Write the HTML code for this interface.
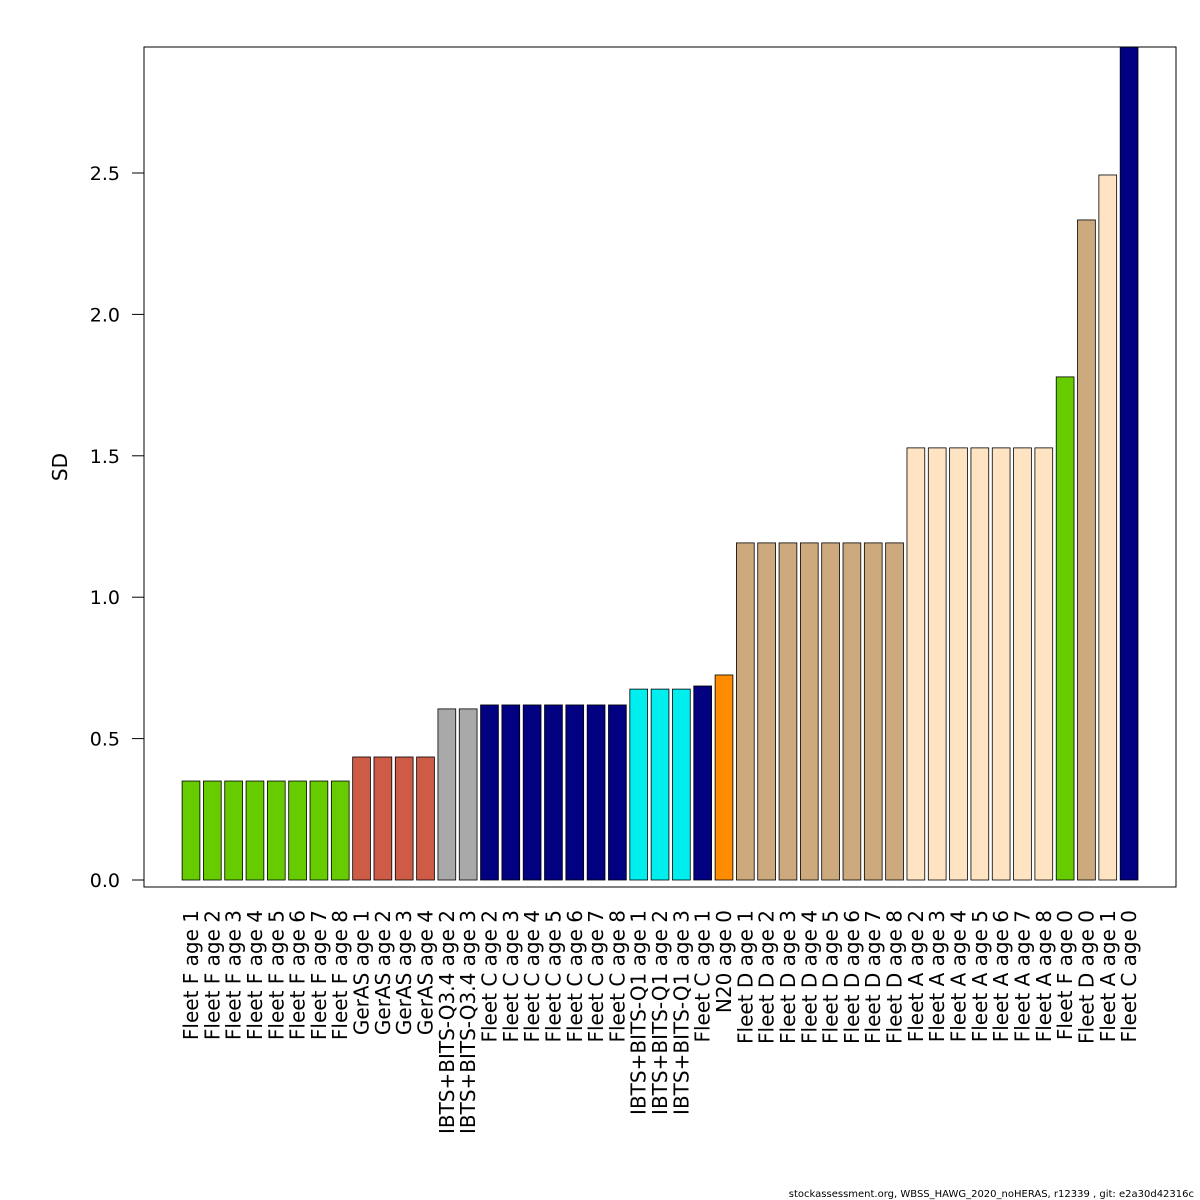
<!DOCTYPE html>
<html><head><meta charset="utf-8"><style>
html,body{margin:0;padding:0;background:#fff;overflow:hidden;width:1200px;height:1200px}
svg{display:block}
svg text{font-family:"DejaVu Sans","Liberation Sans",sans-serif}
</style></head><body>
<svg id="chart" width="1200" height="1200" xmlns="http://www.w3.org/2000/svg">
<defs><clipPath id="plotclip"><rect x="144" y="47" width="1032" height="840"/></clipPath></defs>
<rect x="0" y="0" width="1200" height="1200" fill="#fff"/>
<g id="bars" clip-path="url(#plotclip)"></g>
<g id="labels"></g>
<g id="yaxis"></g>
<rect x="144" y="47" width="1032" height="840" fill="none" stroke="#000" stroke-width="1"/>
<text x="67" y="467" font-size="20" text-anchor="middle" transform="rotate(-90 67 467)">SD</text>
<text x="1194" y="1197" font-size="10" text-anchor="end">stockassessment.org, WBSS_HAWG_2020_noHERAS, r12339 , git: e2a30d42316c</text>
</svg>
<script>
const categories=["Fleet F age 1","Fleet F age 2","Fleet F age 3","Fleet F age 4","Fleet F age 5","Fleet F age 6","Fleet F age 7","Fleet F age 8","GerAS age 1","GerAS age 2","GerAS age 3","GerAS age 4","IBTS+BITS-Q3.4 age 2","IBTS+BITS-Q3.4 age 3","Fleet C age 2","Fleet C age 3","Fleet C age 4","Fleet C age 5","Fleet C age 6","Fleet C age 7","Fleet C age 8","IBTS+BITS-Q1 age 1","IBTS+BITS-Q1 age 2","IBTS+BITS-Q1 age 3","Fleet C age 1","N20 age 0","Fleet D age 1","Fleet D age 2","Fleet D age 3","Fleet D age 4","Fleet D age 5","Fleet D age 6","Fleet D age 7","Fleet D age 8","Fleet A age 2","Fleet A age 3","Fleet A age 4","Fleet A age 5","Fleet A age 6","Fleet A age 7","Fleet A age 8","Fleet F age 0","Fleet D age 0","Fleet A age 1","Fleet C age 0"];
const values=[0.35,0.35,0.35,0.35,0.35,0.35,0.35,0.35,0.435,0.435,0.435,0.435,0.605,0.605,0.619,0.619,0.619,0.619,0.619,0.619,0.619,0.675,0.675,0.675,0.686,0.725,1.192,1.192,1.192,1.192,1.192,1.192,1.192,1.192,1.528,1.528,1.528,1.528,1.528,1.528,1.528,1.779,2.334,2.493,3.0];
const fleets=["F","F","F","F","F","F","F","F","G","G","G","G","Q3","Q3","C","C","C","C","C","C","C","Q1","Q1","Q1","C","N","D","D","D","D","D","D","D","D","A","A","A","A","A","A","A","F","D","A","C"];
const yTicks=[0,0.5,1,1.5,2,2.5];
const colorMap={F:"#66CC00",G:"#CD5B45",Q3:"#A9A9A9",C:"#000080",Q1:"#00EEEE",N:"#FF8C00",D:"#CDAA7D",A:"#FFE4C4"};
const NS="http://www.w3.org/2000/svg";
const y=v=>880-v*282.8;
const step=21.32, bw=17.8;
const x=i=>191+i*step;
const bars=document.getElementById('bars'),labels=document.getElementById('labels'),yaxis=document.getElementById('yaxis');
categories.forEach((c,i)=>{
  const r=document.createElementNS(NS,'rect');
  r.setAttribute('x',x(i)-bw/2);r.setAttribute('width',bw);
  r.setAttribute('y',y(values[i]));r.setAttribute('height',y(0)-y(values[i]));
  r.setAttribute('fill',colorMap[fleets[i]]);r.setAttribute('stroke','#000');r.setAttribute('stroke-width','0.8');
  
  
  bars.appendChild(r);
  const t=document.createElementNS(NS,'text');
  const lx=x(i)+7, ly=910;
  t.setAttribute('x',lx);t.setAttribute('y',ly);t.setAttribute('font-size','20');t.setAttribute('text-anchor','end');
  t.setAttribute('transform','rotate(-90 '+lx+' '+ly+')');
  t.textContent=c;
  
  
  labels.appendChild(t);
});
const ax=document.createElementNS(NS,'line');
ax.setAttribute('x1',144);ax.setAttribute('x2',144);ax.setAttribute('y1',y(0));ax.setAttribute('y2',y(2.5));ax.setAttribute('stroke','#000');


yaxis.appendChild(ax);
yTicks.forEach(v=>{
  const l=document.createElementNS(NS,'line');
  l.setAttribute('x1',132);l.setAttribute('x2',144);l.setAttribute('y1',y(v));l.setAttribute('y2',y(v));l.setAttribute('stroke','#000');
  
  
  yaxis.appendChild(l);
  const t=document.createElementNS(NS,'text');
  t.setAttribute('x',120);t.setAttribute('y',y(v)+7);t.setAttribute('font-size','19');t.setAttribute('text-anchor','end');
  t.textContent=v.toFixed(1);
  
  
  yaxis.appendChild(t);
});
</script>
</body></html>
